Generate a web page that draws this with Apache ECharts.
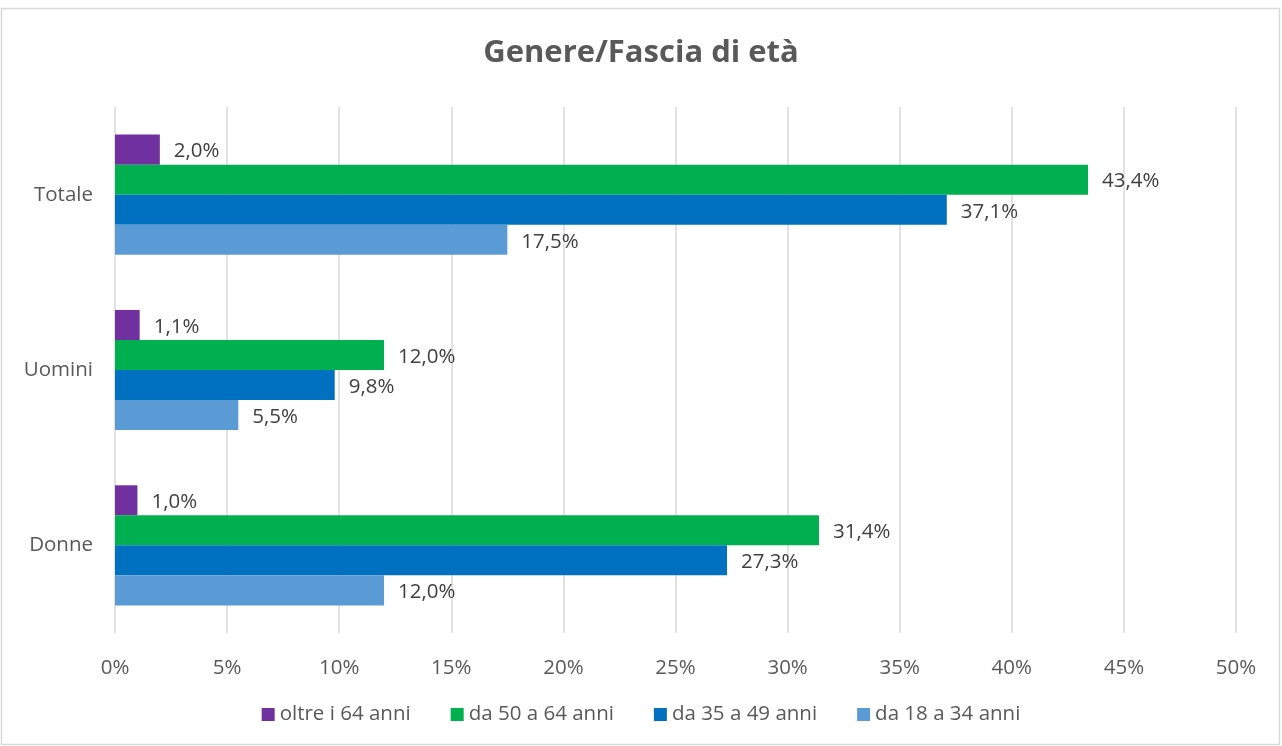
<!DOCTYPE html>
<html>
<head>
<meta charset="utf-8">
<script src="https://cdn.jsdelivr.net/npm/echarts@6/dist/echarts.min.js"></script>
<style>
html,body{margin:0;padding:0;background:#fff;}
#chart{width:1282px;height:746px;}
</style>
</head>
<body>
<div id="chart"></div>
<script>
const categories = ['Donne', 'Uomini', 'Totale'];
const seriesNames = ['oltre i 64 anni', 'da 50 a 64 anni', 'da 35 a 49 anni', 'da 18 a 34 anni'];
const oltre64 = [1.0, 1.1, 2.0];
const da50a64 = [31.4, 12.0, 43.4];
const da35a49 = [27.3, 9.8, 37.1];
const da18a34 = [12.0, 5.5, 17.5];
const xTicks = [0, 5, 10, 15, 20, 25, 30, 35, 40, 45, 50];
const colors = ['#7030A0', '#00B050', '#0070C0', '#5B9BD5'];

const FONT = '"Open Sans", Lato, sans-serif';
const values = [oltre64, da50a64, da35a49, da18a34];

const chart = echarts.init(document.getElementById('chart'), null, {renderer: 'canvas'});
chart.setOption({
  animation: false,
  textStyle: {fontFamily: FONT},
  title: {
    text: 'Genere/Fascia di età',
    left: 'center',
    top: 33,
    textStyle: {fontFamily: FONT, fontSize: 31, fontWeight: 'bold', color: '#595959'}
  },
  graphic: [{
    type: 'rect',
    shape: {x: 1.5, y: 8.5, width: 1278, height: 736},
    style: {fill: 'none', stroke: '#d9d9d9', lineWidth: 1.5},
    silent: true
  }],
  legend: {
    data: seriesNames,
    bottom: 16,
    left: 'center',
    itemWidth: 13,
    itemHeight: 13,
    itemGap: 40,
    icon: 'rect',
    textStyle: {fontFamily: FONT, fontSize: 20.5, color: '#595959'}
  },
  grid: {left: 115, right: 46, top: 107, bottom: 113, containLabel: false},
  xAxis: {
    type: 'value',
    min: 0,
    max: 50,
    interval: 5,
    axisLine: {show: false},
    axisTick: {show: false},
    splitLine: {lineStyle: {color: '#d9d9d9', width: 1.5}},
    axisLabel: {
      fontFamily: FONT, fontSize: 20.5, color: '#595959', margin: 25,
      formatter: v => xTicks.includes(v) ? v + '%' : ''
    }
  },
  yAxis: {
    type: 'category',
    data: categories,
    axisLine: {show: false},
    axisTick: {show: false},
    axisLabel: {fontFamily: FONT, fontSize: 20.5, color: '#595959', margin: 22}
  },
  series: seriesNames.map((name, i) => ({
    name: name,
    type: 'bar',
    data: values[i],
    barGap: '0%',
    barCategoryGap: '31.5%',
    itemStyle: {color: colors[i]},
    label: {
      show: true,
      position: 'right',
      distance: 14,
      fontFamily: FONT,
      fontSize: 20.5,
      color: '#404040',
      offset: [0, 2],
      formatter: p => p.value.toFixed(1).replace('.', ',') + '%'
    }
  }))
});
</script>
</body>
</html>
